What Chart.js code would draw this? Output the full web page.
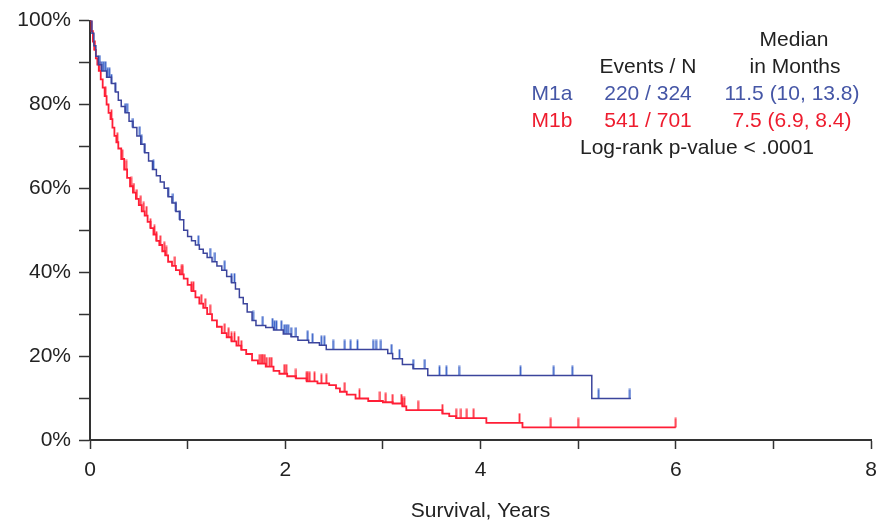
<!DOCTYPE html>
<html>
<head>
<meta charset="utf-8">
<script src="https://cdn.jsdelivr.net/npm/chart.js@4"></script>
<style>
  html, body { margin: 0; padding: 0; background: #fff; }
  #wrap { width: 876px; height: 524px; }
</style>
</head>
<body>
<div id="wrap"><canvas id="kmChart" width="876" height="524"></canvas></div>
<script>
// Kaplan-Meier estimates (years, % surviving)
const m1aTimes = [0, 0.02, 0.04, 0.06, 0.085, 0.12, 0.17, 0.22, 0.26, 0.29, 0.32, 0.36, 0.40, 0.44, 0.48, 0.52, 0.56, 0.60, 0.64, 0.68, 0.72, 0.76, 0.80, 0.84, 0.88, 0.92, 0.96, 1.00, 1.04, 1.08, 1.12, 1.16, 1.20, 1.25, 1.30, 1.35, 1.40, 1.45, 1.49, 1.53, 1.57, 1.61, 1.66, 1.70, 1.80, 1.88, 1.98, 2.06, 2.13, 2.24, 2.35, 2.42, 3.05, 3.10, 3.20, 3.31, 3.46, 5.14, 5.54];
const m1aSurv = [100, 97, 94, 91.5, 89.5, 88, 86.5, 85, 83, 81, 79.5, 78, 76, 74.5, 72.5, 70.5, 68.5, 66.5, 64.5, 63, 61.5, 60, 58, 56.5, 54.5, 52.5, 50, 48.5, 47.5, 46.5, 45.5, 44.5, 43.5, 42.5, 41.5, 40.5, 39, 37.5, 36, 34, 32.5, 30.5, 28.5, 27.3, 26.8, 26.2, 25.3, 24.6, 23.8, 23.2, 22.6, 21.6, 20.6, 19.4, 18, 17, 15.4, 9.9, 9.9];
const m1aCensor = [0.10, 0.12, 0.14, 0.16, 0.18, 0.20, 0.22, 0.26, 0.36, 0.38, 0.44, 0.51, 0.53, 0.56, 0.65, 0.80, 0.85, 0.88, 0.92, 1.11, 1.23, 1.28, 1.38, 1.45, 1.48, 1.67, 1.77, 1.87, 1.89, 1.91, 1.96, 1.99, 2.01, 2.03, 2.06, 2.11, 2.23, 2.28, 2.37, 2.40, 2.49, 2.61, 2.67, 2.74, 2.90, 2.93, 2.98, 3.09, 3.17, 3.31, 3.43, 3.58, 3.65, 3.78, 4.41, 4.75, 4.94, 5.21, 5.53];

const m1bTimes = [0, 0.015, 0.03, 0.045, 0.06, 0.075, 0.09, 0.11, 0.13, 0.15, 0.17, 0.19, 0.21, 0.23, 0.25, 0.27, 0.29, 0.32, 0.35, 0.38, 0.41, 0.44, 0.47, 0.50, 0.53, 0.56, 0.59, 0.62, 0.65, 0.68, 0.71, 0.74, 0.77, 0.80, 0.84, 0.88, 0.92, 0.96, 1.00, 1.04, 1.08, 1.12, 1.16, 1.20, 1.25, 1.30, 1.35, 1.40, 1.45, 1.50, 1.55, 1.60, 1.66, 1.72, 1.80, 1.88, 1.94, 2.02, 2.11, 2.22, 2.33, 2.45, 2.52, 2.56, 2.63, 2.72, 2.85, 3.00, 3.10, 3.20, 3.24, 3.61, 3.68, 3.75, 4.06, 4.43, 6.00];
const m1bSurv = [100, 97.5, 95, 93, 91, 89.5, 88, 86, 84, 82, 80, 78, 76.5, 74.5, 72.5, 71, 69.5, 67, 64.5, 62.5, 60.5, 59, 57.5, 56, 54.5, 53.5, 52, 50.5, 49, 47.5, 46.5, 45, 44, 42.5, 41.5, 40.5, 39.5, 38.5, 37, 35.5, 34, 32.5, 31.5, 30, 28.5, 27, 25.5, 24.5, 23.5, 22.5, 21.5, 20.5, 19, 18.2, 17.5, 16.5, 15.8, 15.2, 14.7, 14, 13.5, 13.1, 12.3, 11.5, 10.8, 9.9, 9.3, 9.0, 8.7, 8.0, 7.1, 6.3, 5.7, 5.2, 4.1, 3.0, 3.0];
const m1bCensor = [0.05, 0.10, 0.16, 0.22, 0.28, 0.33, 0.37, 0.42, 0.45, 0.48, 0.52, 0.55, 0.58, 0.62, 0.66, 0.68, 0.72, 0.76, 0.78, 0.87, 0.94, 0.95, 1.04, 1.06, 1.14, 1.18, 1.23, 1.38, 1.42, 1.45, 1.48, 1.52, 1.55, 1.74, 1.76, 1.77, 1.79, 1.81, 1.84, 1.86, 1.99, 2.01, 2.11, 2.22, 2.23, 2.25, 2.30, 2.37, 2.42, 2.61, 2.76, 2.97, 3.03, 3.10, 3.19, 3.20, 3.22, 3.36, 3.61, 3.75, 3.80, 3.86, 3.93, 4.40, 4.72, 5.00, 6.00];

const xTickValues = [0, 2, 4, 6, 8];
const yTickValues = [0, 20, 40, 60, 80, 100];

const legendRows = [
  { group: "M1a", events: "220 / 324", median: "11.5 (10, 13.8)", color: "#4556a6" },
  { group: "M1b", events: "541 / 701", median: "7.5 (6.9, 8.4)", color: "#ee1c2e" }
];
const pValueText = "Log-rank p-value < .0001";

const FONT = "'Liberation Sans', Arial, sans-serif";
const TEXT = "#222";

function stepPoints(times, surv) {
  return times.map((t, i) => ({ x: t, y: surv[i] }));
}

function survAt(times, surv, t) {
  let s = surv[0];
  for (let i = 0; i < times.length; i++) {
    if (times[i] <= t) s = surv[i];
  }
  return s;
}

function censorPoints(times, surv, cens) {
  return cens.map(t => ({ x: t, y: survAt(times, surv, t) }));
}

// small vertical tick sitting on top of the curve
function tickMark(color) {
  const c = document.createElement("canvas");
  c.width = 3; c.height = 20;
  const g = c.getContext("2d");
  g.strokeStyle = color;
  g.lineWidth = 1.8;
  g.beginPath();
  g.moveTo(1.5, 0.5);
  g.lineTo(1.5, 10);
  g.stroke();
  return c;
}

const legendText = {
  id: "legendText",
  afterDraw(chart) {
    const ctx = chart.ctx;
    ctx.save();
    ctx.font = "21px " + FONT;
    ctx.textAlign = "center";
    ctx.textBaseline = "alphabetic";
    ctx.fillStyle = TEXT;
    ctx.fillText("Median", 794, 46);
    ctx.fillText("Events / N", 648, 73);
    ctx.fillText("in Months", 795, 73);
    legendRows.forEach((r, i) => {
      const y = 100 + i * 27;
      ctx.fillStyle = r.color;
      ctx.fillText(r.group, 552, y);
      ctx.fillText(r.events, 648, y);
      ctx.fillText(r.median, 792, y);
    });
    ctx.fillStyle = TEXT;
    ctx.fillText(pValueText, 697, 154);
    ctx.restore();
  }
};

document.addEventListener("DOMContentLoaded", function () {
  const ctx = document.getElementById("kmChart").getContext("2d");
  new Chart(ctx, {
    type: "line",
    data: {
      datasets: [
        {
          label: "M1a",
          data: stepPoints(m1aTimes, m1aSurv),
          borderColor: "#3b449c",
          borderWidth: 1.5,
          stepped: true,
          pointRadius: 0,
          fill: false
        },
        {
          label: "M1b",
          data: stepPoints(m1bTimes, m1bSurv),
          borderColor: "#ff1e36",
          borderWidth: 1.8,
          stepped: true,
          pointRadius: 0,
          fill: false
        },
        {
          type: "scatter",
          label: "M1a censored",
          data: censorPoints(m1aTimes, m1aSurv, m1aCensor),
          pointStyle: tickMark("#3a62c8"),
          pointRadius: 4,
          showLine: false
        },
        {
          type: "scatter",
          label: "M1b censored",
          data: censorPoints(m1bTimes, m1bSurv, m1bCensor),
          pointStyle: tickMark("#ff2a3a"),
          pointRadius: 4,
          showLine: false
        }
      ]
    },
    options: {
      responsive: false,
      animation: false,
      layout: { padding: { top: 19, right: 3, bottom: 0, left: 0 } },
      plugins: {
        legend: { display: false },
        tooltip: { enabled: false }
      },
      scales: {
        x: {
          type: "linear",
          min: 0,
          max: 8,
          afterFit(scale) {
            scale.height = 84;
            scale.paddingLeft = 0;
            scale.paddingRight = 0;
          },
          ticks: {
            stepSize: 1,
            autoSkip: false,
            maxRotation: 0,
            padding: 9,
            color: TEXT,
            font: { family: FONT, size: 21 },
            callback: v => xTickValues.includes(v) ? String(v) : ""
          },
          grid: {
            drawOnChartArea: false,
            tickLength: 9,
            tickColor: "#333",
            tickWidth: 1.5
          },
          border: { color: "#333", width: 2 },
          title: {
            display: true,
            text: "Survival, Years",
            color: TEXT,
            font: { family: FONT, size: 21 },
            padding: { top: 0, bottom: 0 }
          }
        },
        y: {
          min: 0,
          max: 100,
          afterFit(scale) {
            scale.width = 90;
          },
          ticks: {
            stepSize: 10,
            autoSkip: false,
            padding: 8,
            color: TEXT,
            font: { family: FONT, size: 21 },
            callback: v => yTickValues.includes(v) ? v + "%" : ""
          },
          grid: {
            drawOnChartArea: false,
            tickLength: 11,
            tickColor: "#333",
            tickWidth: 1.5
          },
          border: { color: "#333", width: 2 }
        }
      }
    },
    plugins: [legendText]
  });
});
</script>
</body>
</html>
